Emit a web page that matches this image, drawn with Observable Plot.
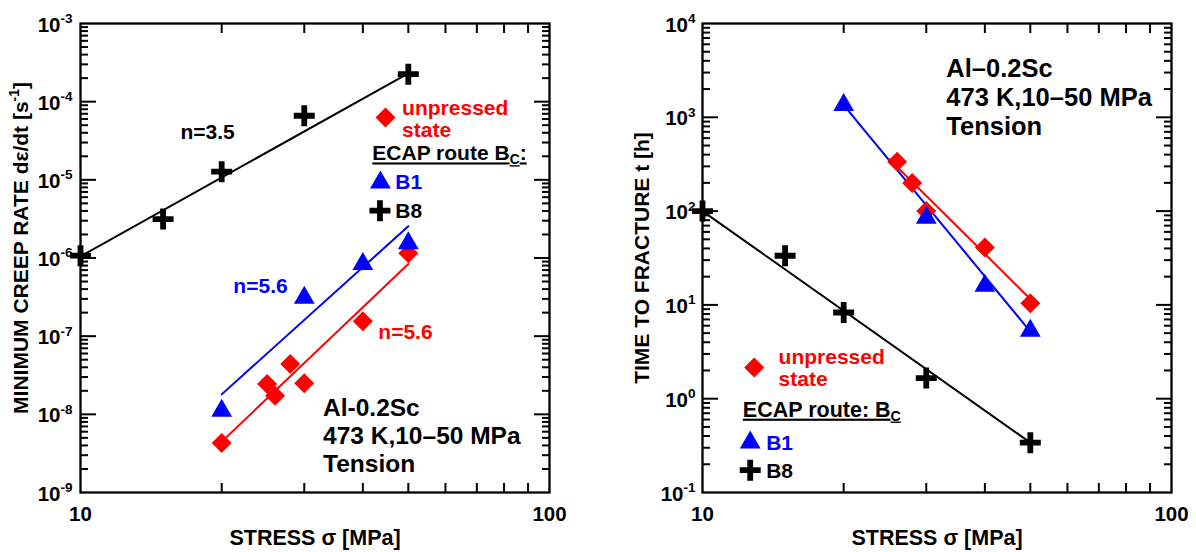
<!DOCTYPE html>
<html>
<head>
<meta charset="utf-8">
<script src="https://cdn.jsdelivr.net/npm/d3@7"></script>
<script src="https://cdn.jsdelivr.net/npm/@observablehq/plot@0.6"></script>
<style>
html, body { margin: 0; padding: 0; background: #fff; }
#wrap { display: flex; width: 1196px; height: 552px; overflow: hidden; }
</style>
</head>
<body>
<div id="wrap"></div>
<script>
// ---------------- data: left panel (minimum creep rate) ----------------
const creepStressUnpressed = [20, 25, 26, 28, 30, 40, 50];
const creepRateUnpressed   = [4.3e-9, 2.45e-8, 1.73e-8, 4.4e-8, 2.5e-8, 1.55e-7, 1.15e-6];
const creepStressB1 = [20, 30, 40, 50];
const creepRateB1   = [1.11e-8, 3.1e-7, 8.4e-7, 1.54e-6];
const creepStressB8 = [10, 15, 20, 30, 50];
const creepRateB8   = [1.07e-6, 3.15e-6, 1.27e-5, 6.6e-5, 2.25e-4];
const creepFitStressUnpressed = [20.4, 50];
const creepFitRateUnpressed   = [5.0e-9, 8.4e-7];
const creepFitStressB1 = [20, 50];
const creepFitRateB1   = [1.8e-8, 2.55e-6];
const creepFitStressB8 = [10, 50];
const creepFitRateB8   = [1.05e-6, 2.3e-4];

// ---------------- data: right panel (time to fracture) ----------------
const ttfStressUnpressed = [26, 28, 30, 40, 50];
const ttfTimeUnpressed   = [335, 199, 100, 41, 10.4];
const ttfStressB1 = [20, 30, 40, 50];
const ttfTimeB1   = [1350, 85, 16, 5.3];
const ttfStressB8 = [10, 15, 20, 30, 50];
const ttfTimeB8   = [100, 33.4, 8.3, 1.66, 0.34];
const ttfFitStressUnpressed = [25, 50.5];
const ttfFitTimeUnpressed   = [360, 11];
const ttfFitStressB1 = [20, 50];
const ttfFitTimeB1   = [1350, 5.2];
const ttfFitStressB8 = [10, 50];
const ttfFitTimeB8   = [100, 0.34];

// ---------------- ticks & labels ----------------
const xTickValues = [10, 100];
const xTickLabels = ["10", "100"];
const minorMultipliers = [2, 3, 4, 5, 6, 7, 8, 9];
const creepTickValues = [1e-9, 1e-8, 1e-7, 1e-6, 1e-5, 1e-4, 1e-3];
const creepTickLabels = ["10^{-9}", "10^{-8}", "10^{-7}", "10^{-6}", "10^{-5}", "10^{-4}", "10^{-3}"];
const ttfTickValues = [0.1, 1, 10, 100, 1000, 10000];
const ttfTickLabels = ["10^{-1}", "10^{0}", "10^{1}", "10^{2}", "10^{3}", "10^{4}"];

const xAxisTitle = "STRESS σ [MPa]";
const creepAxisTitle = "MINIMUM CREEP RATE dε/dt [s^{-1}]";
const ttfAxisTitle = "TIME TO FRACTURE t [h]";

// ---------------- styling ----------------
const FONT = "'Liberation Sans', Arial, Helvetica, sans-serif";
const RED = "#ff0000", BLUE = "#0000ff", BLACK = "#000000";

const symPlus = {draw(c, size) { const r = Math.sqrt(size / Math.PI); c.moveTo(-r, 0); c.lineTo(r, 0); c.moveTo(0, -r); c.lineTo(0, r); }};
const symDiamond = {draw(c, size) { const r = Math.sqrt(size / Math.PI); c.moveTo(0, -r); c.lineTo(r, 0); c.lineTo(0, r); c.lineTo(-r, 0); c.closePath(); }};
const symTriangle = {draw(c, size) { const r = Math.sqrt(size / Math.PI); const h = r * Math.sqrt(3) / 2; c.moveTo(0, -r); c.lineTo(h, r / 2); c.lineTo(-h, r / 2); c.closePath(); }};

const pts = (xs, ys) => xs.map((x, i) => ({x, y: ys[i]}));
const diamonds = (d) => Plot.dot(d, {x: "x", y: "y", r: 10, symbol: symDiamond, fill: RED, stroke: "none"});
const triangles = (d) => Plot.dot(d, {x: "x", y: "y", r: 12, symbol: symTriangle, fill: BLUE, stroke: "none"});
const pluses = (d) => Plot.dot(d, {x: "x", y: "y", r: 10.5, symbol: symPlus, fill: "none", stroke: BLACK, strokeWidth: 5.8});
const fit = (d, color) => Plot.line(d, {x: "x", y: "y", stroke: color, strokeWidth: 2});
const note = (x, y, t, opts = {}) => Plot.text([{x, y, t}], {
  x: "x", y: "y", text: "t", fontSize: 21, fontWeight: "bold", fill: BLACK,
  textAnchor: "middle", lineAnchor: "middle", ...opts
});

function richify(svg) {
  svg.querySelectorAll("text").forEach(t => {
    if (t.textContent.includes("ECAP")) t.style.textDecoration = "underline";
    const s = t.textContent;
    if (!/[\^_]\{/.test(s)) return;
    const parts = s.split(/([\^_]\{[^}]*\})/).filter(p => p !== "");
    while (t.firstChild) t.removeChild(t.firstChild);
    let shift = 0;
    for (const p of parts) {
      const ts = document.createElementNS("http://www.w3.org/2000/svg", "tspan");
      let target = 0, small = false, body = p;
      if (p.startsWith("^{")) { target = -0.42; small = true; body = p.slice(2, -1); }
      else if (p.startsWith("_{")) { target = 0.18; small = true; body = p.slice(2, -1); }
      const k = small ? 0.66 : 1;
      if (small) ts.setAttribute("font-size", "0.66em");
      const d = target - shift;
      if (d) ts.setAttribute("dy", (d / k).toFixed(3) + "em");
      shift = target;
      ts.textContent = body;
      t.appendChild(ts);
    }
  });
}

function buildPanel(cfg) {
  const yTicks = cfg.yTicks;
  const minorY = yTicks.slice(0, -1).flatMap(d => minorMultipliers.map(m => d * m));
  const majorInner = yTicks.slice(1, -1);
  const yLab = new Map(yTicks.map((d, i) => [d, cfg.yTickLabels[i]]));
  const xLab = new Map(xTickValues.map((d, i) => [d, xTickLabels[i]]));
  const minorX = minorMultipliers.map(m => xTickValues[0] * m);
  const tk = {strokeWidth: 2, fill: "none", label: null};
  const svg = Plot.plot({
    width: 598, height: 552,
    marginLeft: cfg.marginLeft, marginRight: cfg.marginRight, marginTop: 23, marginBottom: 60,
    style: {fontFamily: FONT, color: "black", background: "white", overflow: "visible"},
    x: {type: "log", domain: [xTickValues[0], xTickValues[1]], axis: null},
    y: {type: "log", domain: [yTicks[0], yTicks[yTicks.length - 1]], axis: null},
    marks: [
      Plot.axisY(minorY, {anchor: "left", tickSize: -8, ...tk}),
      Plot.axisY(minorY, {anchor: "right", tickSize: -8, ...tk}),
      Plot.axisY(majorInner, {anchor: "left", tickSize: -16, ...tk}),
      Plot.axisY(majorInner, {anchor: "right", tickSize: -16, ...tk}),
      Plot.axisX(minorX, {anchor: "bottom", tickSize: -9, ...tk}),
      Plot.axisX(minorX, {anchor: "top", tickSize: -9, ...tk}),
      Plot.axisY(yTicks, {anchor: "left", tickSize: 0, tickPadding: cfg.tickPad, dy: 1.5,
        tickFormat: d => yLab.get(d), fontSize: 20.5, fontWeight: "bold", label: null}),
      Plot.axisX(xTickValues, {anchor: "bottom", tickSize: 0, tickPadding: 14,
        tickFormat: d => xLab.get(d), fontSize: 20.5, fontWeight: "bold", label: null}),
      Plot.frame({strokeWidth: 2.3}),
      Plot.text([cfg.yTitle], {frameAnchor: "left", dx: cfg.yTitleDx, dy: cfg.yTitleDy, rotate: -90, fontSize: 21,
        fontWeight: "bold", textAnchor: "middle", lineAnchor: "middle"}),
      Plot.text([xAxisTitle], {frameAnchor: "bottom", dy: 46, fontSize: 21.5, fontWeight: "bold",
        textAnchor: "middle", lineAnchor: "middle"}),
      ...cfg.marks
    ]
  });
  return svg;
}

const left = buildPanel({
  marginLeft: 80, marginRight: 49, tickPad: 8, yTitleDx: -59, yTitleDy: -10,
  yTicks: creepTickValues, yTickLabels: creepTickLabels, yTitle: creepAxisTitle,
  marks: [
    fit(pts(creepFitStressB8, creepFitRateB8), BLACK),
    fit(pts(creepFitStressB1, creepFitRateB1), BLUE),
    fit(pts(creepFitStressUnpressed, creepFitRateUnpressed), RED),
    diamonds(pts(creepStressUnpressed, creepRateUnpressed)),
    triangles(pts(creepStressB1, creepRateB1)),
    pluses(pts(creepStressB8, creepRateB8)),
    note(18.66, 4.12e-5, "n=3.5"),
    note(24.2, 4.3e-7, "n=5.6", {fill: BLUE}),
    note(49.3, 1.11e-7, "n=5.6", {fill: RED}),
    diamonds([{x: 44.7, y: 6.28e-5}]),
    note(48.5, 6.07e-5, "unpressed\nstate", {fill: RED, textAnchor: "start", lineHeight: 1.05}),
    note(41.9, 2.16e-5, "ECAP route B_{C}:", {textAnchor: "start"}),
    triangles([{x: 43.6, y: 9.27e-6}]),
    note(46.9, 9.18e-6, "B1", {fill: BLUE, textAnchor: "start"}),
    pluses([{x: 43.5, y: 4.03e-6}]),
    note(46.9, 3.96e-6, "B8", {textAnchor: "start"}),
    note(32.9, 5.45e-9, "Al-0.2Sc\n473 K,10–50 MPa\nTension", {fontSize: 24.5, textAnchor: "start", lineHeight: 1.16})
  ]
});

const right = buildPanel({
  marginLeft: 104, marginRight: 25, tickPad: 7, yTitleDx: -60, yTitleDy: 0,
  yTicks: ttfTickValues, yTickLabels: ttfTickLabels, yTitle: ttfAxisTitle,
  marks: [
    fit(pts(ttfFitStressB8, ttfFitTimeB8), BLACK),
    fit(pts(ttfFitStressB1, ttfFitTimeB1), BLUE),
    fit(pts(ttfFitStressUnpressed, ttfFitTimeUnpressed), RED),
    diamonds(pts(ttfStressUnpressed, ttfTimeUnpressed)),
    triangles(pts(ttfStressB1, ttfTimeB1)),
    pluses(pts(ttfStressB8, ttfTimeB8)),
    diamonds([{x: 12.89, y: 2.15}]),
    note(14.53, 2.12, "unpressed\nstate", {fill: RED, textAnchor: "start", lineHeight: 1.05}),
    note(12.19, 0.762, "ECAP route: B_{C}", {textAnchor: "start", fontSize: 21.5}),
    triangles([{x: 12.64, y: 0.341}]),
    note(13.67, 0.339, "B1", {fill: BLUE, textAnchor: "start"}),
    pluses([{x: 12.64, y: 0.173}]),
    note(13.67, 0.170, "B8", {textAnchor: "start"}),
    note(33.1, 1671, "Al–0.2Sc\n473 K,10–50 MPa\nTension", {fontSize: 25.5, textAnchor: "start", lineHeight: 1.14})
  ]
});

const wrap = document.getElementById("wrap");
wrap.appendChild(left);
wrap.appendChild(right);
richify(left);
richify(right);
</script>
</body>
</html>
